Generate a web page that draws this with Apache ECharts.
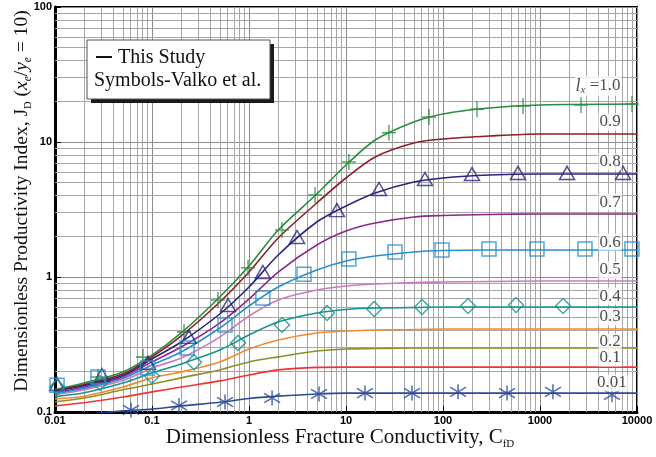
<!DOCTYPE html>
<html><head><meta charset="utf-8">
<script src="https://cdn.jsdelivr.net/npm/echarts@6/dist/echarts.min.js"></script>
<style>html,body{margin:0;padding:0;background:#fff}#c{width:656px;height:457px}</style>
</head><body><div id="c"></div>
<script>
// ---- Data ----
const cfd = [0.01, 0.02, 0.05, 0.1, 0.2, 0.5, 1, 2, 5, 10, 20, 50, 100, 300, 1000, 10000];
const jd_100 = [0.147, 0.164, 0.198, 0.264, 0.385, 0.711, 1.206, 2.229, 4.12, 6.755, 10.35, 14.07, 16.12, 17.86, 18.8, 19.11];
const jd_090 = [0.144, 0.160, 0.191, 0.256, 0.366, 0.653, 1.089, 1.945, 3.533, 5.412, 7.743, 9.83, 10.52, 11.08, 11.47, 11.47];
const jd_080 = [0.142, 0.157, 0.186, 0.247, 0.330, 0.532, 0.843, 1.455, 2.555, 3.357, 4.191, 5.054, 5.412, 5.696, 5.794, 5.794];
const jd_070 = [0.139, 0.153, 0.182, 0.235, 0.303, 0.456, 0.687, 1.089, 1.726, 2.191, 2.512, 2.783, 2.855, 2.904, 2.929, 2.929];
const jd_060 = [0.137, 0.149, 0.177, 0.223, 0.278, 0.419, 0.610, 0.843, 1.127, 1.314, 1.431, 1.531, 1.571, 1.585, 1.585, 1.585];
const jd_050 = [0.134, 0.146, 0.171, 0.212, 0.251, 0.359, 0.514, 0.676, 0.801, 0.858, 0.887, 0.911, 0.918, 0.926, 0.934, 0.934];
const jd_040 = [0.130, 0.139, 0.164, 0.195, 0.227, 0.288, 0.372, 0.464, 0.541, 0.575, 0.589, 0.594, 0.600, 0.600, 0.600, 0.600];
const jd_030 = [0.125, 0.131, 0.153, 0.179, 0.198, 0.235, 0.293, 0.342, 0.385, 0.398, 0.405, 0.408, 0.412, 0.412, 0.412, 0.412];
const jd_020 = [0.119, 0.127, 0.146, 0.161, 0.179, 0.205, 0.235, 0.256, 0.283, 0.293, 0.295, 0.298, 0.298, 0.298, 0.298, 0.298];
const jd_010 = [0.111, 0.117, 0.129, 0.141, 0.153, 0.170, 0.188, 0.205, 0.214, 0.215, 0.215, 0.215, 0.215, 0.215, 0.215, 0.215];
const jd_001 = [0.090, 0.095, 0.102, 0.105, 0.111, 0.118, 0.126, 0.131, 0.136, 0.138, 0.138, 0.138, 0.138, 0.138, 0.138, 0.138];

// Valko et al. symbols
const vX_100 = [0.0277, 0.0807, 0.214, 0.478, 0.977, 2.19, 4.79, 10.7, 27.7, 71.8, 224, 668, 2650, 8870];
const vY_100 = [0.1816, 0.255, 0.392, 0.676, 1.17, 2.23, 4.05, 7.11, 11.7, 15.3, 17.5, 18.5, 18.8, 19.1];
const vX_080 = [0.0105, 0.0305, 0.091, 0.240, 0.608, 1.39, 3.13, 8.07, 21.9, 65.2, 199, 593, 1900, 7180];
const vY_080 = [0.161, 0.188, 0.231, 0.36, 0.62, 1.09, 1.98, 3.13, 4.49, 5.32, 5.79, 5.9, 5.9, 5.9];
const vX_060 = [0.0105, 0.0277, 0.09, 0.230, 0.566, 1.39, 3.69, 10.7, 32, 97.7, 298, 931, 2910, 8870];
const vY_060 = [0.158, 0.182, 0.212, 0.298, 0.441, 0.699, 1.05, 1.36, 1.53, 1.585, 1.61, 1.61, 1.61, 1.61];
const vX_040 = [0.0105, 0.0291, 0.1, 0.271, 0.771, 2.19, 6.37, 19.5, 60.8, 181, 566, 1730];
const vY_040 = [0.153, 0.164, 0.185, 0.234, 0.325, 0.441, 0.541, 0.579, 0.60, 0.61, 0.62, 0.61];
const vX_001 = [0.0608, 0.190, 0.566, 1.73, 5.27, 15.7, 47.9, 143, 457, 1360, 5520];
const vY_001 = [0.1035, 0.1117, 0.1186, 0.127, 0.136, 0.138, 0.138, 0.141, 0.138, 0.141, 0.134];

// curve labels
const labelText = ['1.0', '0.9', '0.8', '0.7', '0.6', '0.5', '0.4', '0.3', '0.2', '0.1', '0.01'];
const labelX = [3963, 5270, 5270, 5270, 5270, 5270, 5270, 5270, 5270, 5270, 5520];
const labelY = [26.0, 14.07, 7.11, 3.59, 1.815, 1.127, 0.722, 0.506, 0.330, 0.2512, 0.164];

// ---- Styles ----
const curves = [
  {d: jd_100, c: '#2a8c3c'}, {d: jd_090, c: '#8c1f2a'}, {d: jd_080, c: '#2b2580'},
  {d: jd_070, c: '#8a2a88'}, {d: jd_060, c: '#2a8fcf'}, {d: jd_050, c: '#cc7ac0'},
  {d: jd_040, c: '#17938f'}, {d: jd_030, c: '#f08a30'}, {d: jd_020, c: '#8e8e26'},
  {d: jd_010, c: '#ee3535'}, {d: jd_001, c: '#2c4a9c'}
];
const markers = [
  {x: vX_100, y: vY_100, c: '#2a8c3c', s: 'path://M8,0L8,16M0,8L16,8', size: [14, 16]},
  {x: vX_080, y: vY_080, c: '#2b2580', s: 'triangle', size: [15, 13]},
  {x: vX_060, y: vY_060, c: '#2a8fcf', s: 'rect', size: [14, 14]},
  {x: vX_040, y: vY_040, c: '#17938f', s: 'diamond', size: [15, 15]},
  {x: vX_001, y: vY_001, c: '#2c4a9c', s: 'path://M8,0L8,16M0,3L16,13M0,13L16,3', size: [16, 15]}
];

const minorX = []; for (let e = -2; e < 4; e++) for (let k = 2; k <= 9; k++) minorX.push(+(k * Math.pow(10, e)).toPrecision(3));
const minorY = []; for (let e = -1; e < 2; e++) for (let k = 2; k <= 9; k++) minorY.push(+(k * Math.pow(10, e)).toPrecision(3));

const serif = '"Liberation Serif", "Times New Roman", serif';
const fmt = v => String(+(+v).toPrecision(6));

const series = [];
series.push({
  type: 'line', z: 1, data: [], silent: true, showSymbol: false,
  markLine: {
    z: 1, silent: true, symbol: ['none', 'none'], animation: false,
    label: {show: false},
    lineStyle: {color: '#a6a6a6', width: 1, type: 'solid'},
    data: minorX.map(v => ({xAxis: v})).concat(minorY.map(v => ({yAxis: v})))
  }
});
curves.forEach(cv => {
  series.push({
    type: 'line', z: 3, smooth: 0.3, showSymbol: false, silent: true, clip: true,
    lineStyle: {color: cv.c, width: 1.6},
    data: cfd.map((x, i) => [x, cv.d[i]])
  });
});
markers.forEach(m => {
  series.push({
    type: 'scatter', z: 4, silent: true, symbol: m.s, symbolSize: m.size, clip: true,
    itemStyle: {color: 'rgba(0,0,0,0)', borderColor: m.c, borderWidth: 1.5},
    data: m.x.map((x, i) => [x, m.y[i]])
  });
});
series.push({
  type: 'scatter', z: 6, silent: true, symbolSize: 0.1,
  itemStyle: {color: 'rgba(0,0,0,0)'},
  label: {
    show: true, position: 'inside', color: '#222', fontFamily: serif, fontSize: 17,
    backgroundColor: '#fff', padding: [0, 1, 0, 1],
    formatter: p => p.dataIndex === 0 ? '{i|l}{s|x}{n| =1.0}' : labelText[p.dataIndex],
    rich: {
      i: {fontFamily: serif, fontSize: 18, fontStyle: 'italic', color: '#222', lineHeight: 20},
      s: {fontFamily: serif, fontSize: 11, fontStyle: 'italic', color: '#222', lineHeight: 10, verticalAlign: 'bottom'},
      n: {fontFamily: serif, fontSize: 17, color: '#222', lineHeight: 20}
    }
  },
  data: labelX.map((x, i) => [x, labelY[i]])
});

const chart = echarts.init(document.getElementById('c'), null, {renderer: 'canvas'});
chart.setOption({
  animation: false,
  backgroundColor: '#fff',
  grid: {left: 55, right: 19, top: 7, bottom: 45, show: true, borderColor: '#000', borderWidth: 2, backgroundColor: 'transparent'},
  xAxis: {
    type: 'log', logBase: 10, min: 0.01, max: 10000,
    axisLine: {show: true, lineStyle: {color: '#000', width: 3}},
    axisTick: {show: true, inside: true, length: 6, lineStyle: {color: '#000', width: 1}},
    axisLabel: {show: true, color: '#000', fontFamily: '"Liberation Sans", Arial, sans-serif', fontWeight: 'bold', fontSize: 11, margin: 3, formatter: fmt},
    splitLine: {show: true, lineStyle: {color: '#8c8c8c', width: 1}}
  },
  yAxis: {
    type: 'log', logBase: 10, min: 0.1, max: 100,
    axisLine: {show: true, lineStyle: {color: '#000', width: 3}},
    axisTick: {show: true, inside: true, length: 6, lineStyle: {color: '#000', width: 1}},
    axisLabel: {show: true, color: '#000', fontFamily: '"Liberation Sans", Arial, sans-serif', fontWeight: 'bold', fontSize: 11, margin: 3, formatter: fmt},
    splitLine: {show: true, lineStyle: {color: '#8c8c8c', width: 1}}
  },
  series: series,
  graphic: [
    {
      type: 'text', z: 100, x: 340, y: 437,
      style: {
        text: '{n|Dimensionless Fracture Conductivity, C}{s|fD}',
        align: 'center', verticalAlign: 'middle',
        rich: {
          n: {fontFamily: serif, fontSize: 21, fill: '#111', lineHeight: 26},
          s: {fontFamily: serif, fontSize: 11, fill: '#111', lineHeight: 12, verticalAlign: 'bottom'}
        }
      }
    },
    {
      type: 'text', z: 100, x: 22, y: 201, rotation: Math.PI / 2,
      style: {
        text: '{n|Dimensionless Productivity Index, J}{s|D}{n| (}{i|x}{si|e}{n|/}{i|y}{si|e}{n| = 10)}',
        align: 'center', verticalAlign: 'middle',
        rich: {
          n: {fontFamily: serif, fontSize: 19.5, fill: '#111', lineHeight: 24},
          i: {fontFamily: serif, fontSize: 19.5, fontStyle: 'italic', fill: '#111', lineHeight: 24},
          s: {fontFamily: serif, fontSize: 10.5, fill: '#111', lineHeight: 11, verticalAlign: 'bottom'},
          si: {fontFamily: serif, fontSize: 11.5, fontStyle: 'italic', fill: '#111', lineHeight: 11, verticalAlign: 'bottom'}
        }
      }
    },
    {
      type: 'group', z: 100, children: [
        {type: 'rect', z: 100, shape: {x: 91, y: 44, width: 183, height: 59}, style: {fill: '#1a1a1a'}},
        {type: 'rect', z: 101, shape: {x: 87, y: 40, width: 183, height: 59}, style: {fill: '#fff', stroke: '#555', lineWidth: 1}},
        {type: 'line', z: 102, shape: {x1: 96, y1: 57, x2: 112, y2: 57}, style: {stroke: '#111', lineWidth: 2}},
        {type: 'text', z: 102, x: 118, y: 58, style: {text: 'This Study', fontFamily: serif, fontSize: 20, fill: '#111', verticalAlign: 'middle'}},
        {type: 'text', z: 102, x: 94, y: 81, style: {text: 'Symbols-Valko et al.', fontFamily: serif, fontSize: 20, fill: '#111', verticalAlign: 'middle'}}
      ]
    }
  ]
});
</script>
</body></html>
